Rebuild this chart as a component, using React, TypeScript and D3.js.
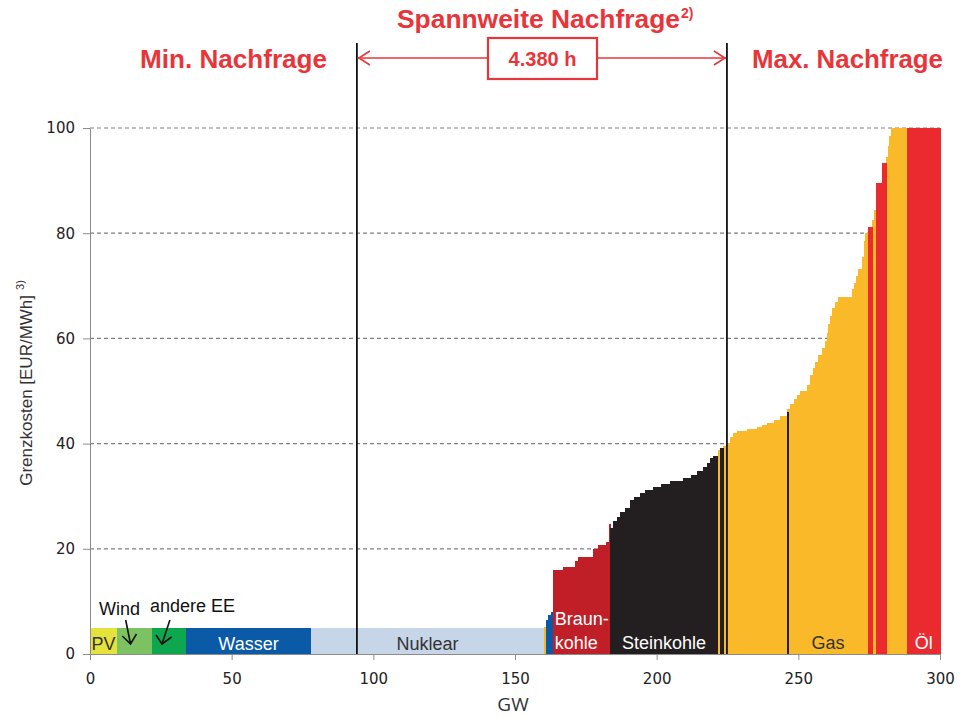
import { useEffect, useRef } from "react";
import * as d3 from "d3";

const WIDTH = 961;
const HEIGHT = 717;
const MARGIN = { top: 128, right: 21, bottom: 63, left: 90 };

// [from GW, to GW, cost EUR/MWh]
type Step = [number, number, number];

const pv: Step[] = [[0, 9.5, 5]];
const wind: Step[] = [[9.5, 21.9, 5]];
const andereEE: Step[] = [[21.9, 33.9, 5]];
const wasser: Step[] = [
    [33.9, 78.0, 5],
    [160.9, 161.8, 6.5],
    [161.8, 162.6, 7.5],
    [162.6, 163.4, 8],
];
const nuklear: Step[] = [[78.0, 160.2, 5]];
const braunkohle: Step[] = [
    [163.4, 166.9, 16.0],
    [166.9, 171.0, 16.6],
    [171.0, 172.3, 17.7],
    [172.3, 177.5, 18.5],
    [177.5, 179.3, 20.0],
    [179.3, 182.2, 20.7],
    [182.2, 183.0, 21.3],
    [183.0, 183.6, 24.8],
];
const steinkohle: Step[] = [
    [183.6, 184.5, 24.0],
    [184.5, 185.9, 25.2],
    [185.9, 187.2, 26.1],
    [187.2, 188.8, 27.0],
    [188.8, 190.6, 27.7],
    [190.6, 192.0, 29.3],
    [192.0, 194.1, 29.8],
    [194.1, 196.0, 30.6],
    [196.0, 198.7, 31.2],
    [198.7, 201.5, 31.8],
    [201.5, 204.7, 32.3],
    [204.7, 209.3, 32.8],
    [209.3, 212.0, 33.4],
    [212.0, 214.2, 34.0],
    [214.2, 216.5, 34.7],
    [216.5, 217.8, 35.5],
    [217.8, 218.8, 36.3],
    [218.8, 219.8, 37.2],
    [219.8, 221.6, 37.6],
    [222.4, 223.4, 39.1],
    [246.0, 246.4, 46.0],
];
const gas: Step[] = [
    [160.2, 160.9, 5.2],
    [221.6, 222.4, 38.8],
    [223.4, 224.8, 39.6],
    [224.8, 225.9, 40.2],
    [225.9, 227.0, 41.2],
    [227.0, 228.4, 42.0],
    [228.4, 232.0, 42.4],
    [232.0, 235.4, 42.7],
    [235.4, 237.2, 43.2],
    [237.2, 239.0, 43.6],
    [239.0, 241.3, 44.0],
    [241.3, 243.5, 44.5],
    [243.5, 246.0, 45.2],
    [246.0, 247.0, 46.5],
    [247.0, 248.3, 47.5],
    [248.3, 249.5, 48.5],
    [249.5, 250.6, 49.3],
    [250.6, 253.0, 50.0],
    [253.0, 254.1, 51.2],
    [254.1, 255.2, 53.0],
    [255.2, 256.0, 54.3],
    [256.0, 256.9, 55.5],
    [256.9, 258.2, 56.8],
    [258.2, 259.3, 58.2],
    [259.3, 260.0, 59.5],
    [260.0, 260.6, 61.0],
    [260.6, 261.3, 62.8],
    [261.3, 262.0, 64.3],
    [262.0, 263.0, 65.8],
    [263.0, 264.0, 67.0],
    [264.0, 268.8, 67.8],
    [268.8, 269.5, 69.3],
    [269.5, 270.2, 70.5],
    [270.2, 271.1, 71.8],
    [271.1, 272.4, 73.2],
    [272.4, 273.0, 75.5],
    [273.0, 273.6, 78.5],
    [273.6, 274.6, 80.0],
    [276.1, 276.8, 82.5],
    [276.8, 277.5, 84.5],
    [281.1, 281.5, 94.5],
    [281.5, 282.0, 96.5],
    [282.0, 282.7, 98.5],
    [282.7, 288.5, 100],
];
const oel: Step[] = [
    [274.6, 276.1, 81.2],
    [277.5, 279.5, 89.5],
    [279.5, 281.1, 93.3],
    [288.5, 300, 100],
];

const minDemand = 94.2;
const maxDemand = 224.8;
const xTicks = [0, 50, 100, 150, 200, 250, 300];
const yTicks = [0, 20, 40, 60, 80, 100];

const layers: { steps: Step[]; color: string }[] = [
    { steps: pv, color: "#e4e23b" },
    { steps: wind, color: "#7cc262" },
    { steps: andereEE, color: "#0da750" },
    { steps: wasser, color: "#0b5aa7" },
    { steps: nuklear, color: "#c6d6e8" },
    { steps: braunkohle, color: "#c11f28" },
    { steps: gas, color: "#fab928" },
    { steps: oel, color: "#eb2a2f" },
    { steps: steinkohle, color: "#231f20" },
];

const RED = "#e8353a";
const NARROW = '"Liberation Sans Narrow", "Arial Narrow", "Liberation Sans", sans-serif';
const SANS = '"Liberation Sans", Arial, sans-serif';

export default function App() {
    const xAxisRef = useRef<SVGGElement>(null);
    const yAxisRef = useRef<SVGGElement>(null);
    const boundsWidth = WIDTH - MARGIN.left - MARGIN.right;
    const boundsHeight = HEIGHT - MARGIN.top - MARGIN.bottom;

    const xScale = d3.scaleLinear().domain([0, 300]).range([0, boundsWidth]);
    const yScale = d3.scaleLinear().domain([0, 100]).range([boundsHeight, 0]);

    useEffect(() => {
        const xg = d3.select(xAxisRef.current);
        xg.selectAll("*").remove();
        xg.call(d3.axisBottom(xScale).tickValues(xTicks).tickSize(6).tickPadding(13).tickSizeOuter(0));
        xg.select(".domain").attr("stroke", "#8c8c8c");
        xg.selectAll(".tick line").attr("stroke", "#8c8c8c");
        xg.selectAll("text").attr("font-size", 15).attr("font-family", '"DejaVu Sans", sans-serif').attr("fill", "#222");

        const yg = d3.select(yAxisRef.current);
        yg.selectAll("*").remove();
        yg.call(d3.axisLeft(yScale).tickValues(yTicks).tickSize(7).tickPadding(8).tickSizeOuter(0));
        yg.select(".domain").attr("stroke", "#8c8c8c");
        yg.selectAll(".tick line").attr("stroke", "#8c8c8c");
        yg.selectAll("text").attr("font-size", 15).attr("font-family", '"DejaVu Sans", sans-serif').attr("fill", "#222");
    }, []);

    const xMin = MARGIN.left + xScale(minDemand);
    const xMax = MARGIN.left + xScale(maxDemand);
    const arrowY = 58;
    const boxL = 488;
    const boxR = 597;

    return (
        <div style={{ position: "absolute", left: 0, top: 0 }}>
            <svg width={WIDTH} height={HEIGHT} style={{ display: "block", background: "#fff" }}>
                <g transform={`translate(${MARGIN.left},${MARGIN.top})`}>
                    {/* grid */}
                    {yTicks.filter((t) => t > 0).map((t) => (
                        <line key={t} x1={0} x2={boundsWidth} y1={yScale(t)} y2={yScale(t)}
                            stroke="#808080" strokeWidth={1.2} strokeDasharray="4,3" />
                    ))}
                    {/* merit order bars */}
                    {layers.map((l, i) => (
                        <g key={i} shapeRendering="crispEdges">
                            {l.steps.map((s, j) => (
                                <rect key={j} x={xScale(s[0])} width={xScale(s[1]) - xScale(s[0]) + 0.6}
                                    y={yScale(s[2])} height={boundsHeight - yScale(s[2])} fill={l.color} />
                            ))}
                        </g>
                    ))}
                    <g ref={xAxisRef} transform={`translate(0,${boundsHeight})`} />
                    <g ref={yAxisRef} />
                    {/* fuel labels */}
                    <g fontFamily={SANS} fontSize={18}>
                        <text x={xScale(0.5)} y={boundsHeight - 4} fill="#333">PV</text>
                        <text x={(xScale(33.9) + xScale(78)) / 2} y={boundsHeight - 4} fill="#fff" textAnchor="middle">Wasser</text>
                        <text x={(xScale(78) + xScale(160.2)) / 2} y={boundsHeight - 4} fill="#333" textAnchor="middle">Nuklear</text>
                        <text x={xScale(164)} y={boundsHeight - 29} fill="#fff">Braun-</text>
                        <text x={xScale(164)} y={boundsHeight - 5} fill="#fff">kohle</text>
                        <text x={(xScale(183.6) + xScale(221.6)) / 2} y={boundsHeight - 5} fill="#fff" textAnchor="middle">Steinkohle</text>
                        <text x={xScale(260.5)} y={boundsHeight - 5} fill="#333" textAnchor="middle">Gas</text>
                        <text x={xScale(294.3)} y={boundsHeight - 5} fill="#fff" textAnchor="middle">Öl</text>
                        <text x={xScale(3.2)} y={boundsHeight - 39} fill="#111">Wind</text>
                        <text x={xScale(21.2)} y={boundsHeight - 42} fill="#111">andere EE</text>
                    </g>
                    {/* small arrows */}
                    <g stroke="#111" strokeWidth={1.6} fill="none">
                        <path d={`M${xScale(12.6)},${boundsHeight - 34} L${xScale(14.3)},${boundsHeight - 10}`} />
                        <path d={`M${xScale(11.4)},${boundsHeight - 18} L${xScale(14.3)},${boundsHeight - 10} L${xScale(16.4)},${boundsHeight - 20}`} />
                        <path d={`M${xScale(28.2)},${boundsHeight - 34} L${xScale(25.4)},${boundsHeight - 10}`} />
                        <path d={`M${xScale(23.3)},${boundsHeight - 19} L${xScale(25.4)},${boundsHeight - 10} L${xScale(28.8)},${boundsHeight - 17}`} />
                    </g>
                </g>

                {/* demand lines */}
                <line x1={xMin} x2={xMin} y1={43} y2={MARGIN.top + boundsHeight} stroke="#111" strokeWidth={1.8} />
                <line x1={xMax} x2={xMax} y1={43} y2={MARGIN.top + boundsHeight} stroke="#111" strokeWidth={1.8} />

                {/* range arrow */}
                <g stroke={RED} strokeWidth={1.6} fill="none">
                    <line x1={xMin + 1} x2={boxL} y1={arrowY} y2={arrowY} />
                    <line x1={boxR} x2={xMax - 1} y1={arrowY} y2={arrowY} />
                    <path d={`M${xMin + 13},${arrowY - 7} L${xMin + 2},${arrowY} L${xMin + 13},${arrowY + 7}`} />
                    <path d={`M${xMax - 13},${arrowY - 7} L${xMax - 2},${arrowY} L${xMax - 13},${arrowY + 7}`} />
                    <rect x={boxL} y={38} width={boxR - boxL} height={41} strokeWidth={2.2} />
                </g>
                <text x={(boxL + boxR) / 2} y={66} textAnchor="middle" fill={RED} fontFamily={NARROW}
                    fontWeight="bold" fontSize={20}>4.380 h</text>

                <text x={397} y={28} fill={RED} fontFamily={NARROW} fontWeight="bold" fontSize={25}
                    textLength={283} lengthAdjust="spacingAndGlyphs">Spannweite Nachfrage</text>
                <text x={681} y={18} fill={RED} fontFamily={NARROW} fontWeight="bold" fontSize={14}>2)</text>
                <text x={140} y={68} fill={RED} fontFamily={NARROW} fontWeight="bold" fontSize={26}
                    textLength={187} lengthAdjust="spacingAndGlyphs">Min. Nachfrage</text>
                <text x={752} y={68} fill={RED} fontFamily={NARROW} fontWeight="bold" fontSize={26}
                    textLength={191} lengthAdjust="spacingAndGlyphs">Max. Nachfrage</text>

                {/* axis titles */}
                <text x={MARGIN.left + boundsWidth / 2 - 2} y={711} textAnchor="middle" fontFamily='"Open Sans", sans-serif'
                    fontSize={19} fill="#333">GW</text>
                <text transform={`translate(32,${MARGIN.top + boundsHeight / 2 - 8}) rotate(-90)`} textAnchor="middle"
                    fontFamily={SANS} fontSize={17} fill="#333">
                    Grenzkosten [EUR/MWh]<tspan dy={-8} fontSize={11} dx={5}>3)</tspan>
                </text>
            </svg>
        </div>
    );
}
